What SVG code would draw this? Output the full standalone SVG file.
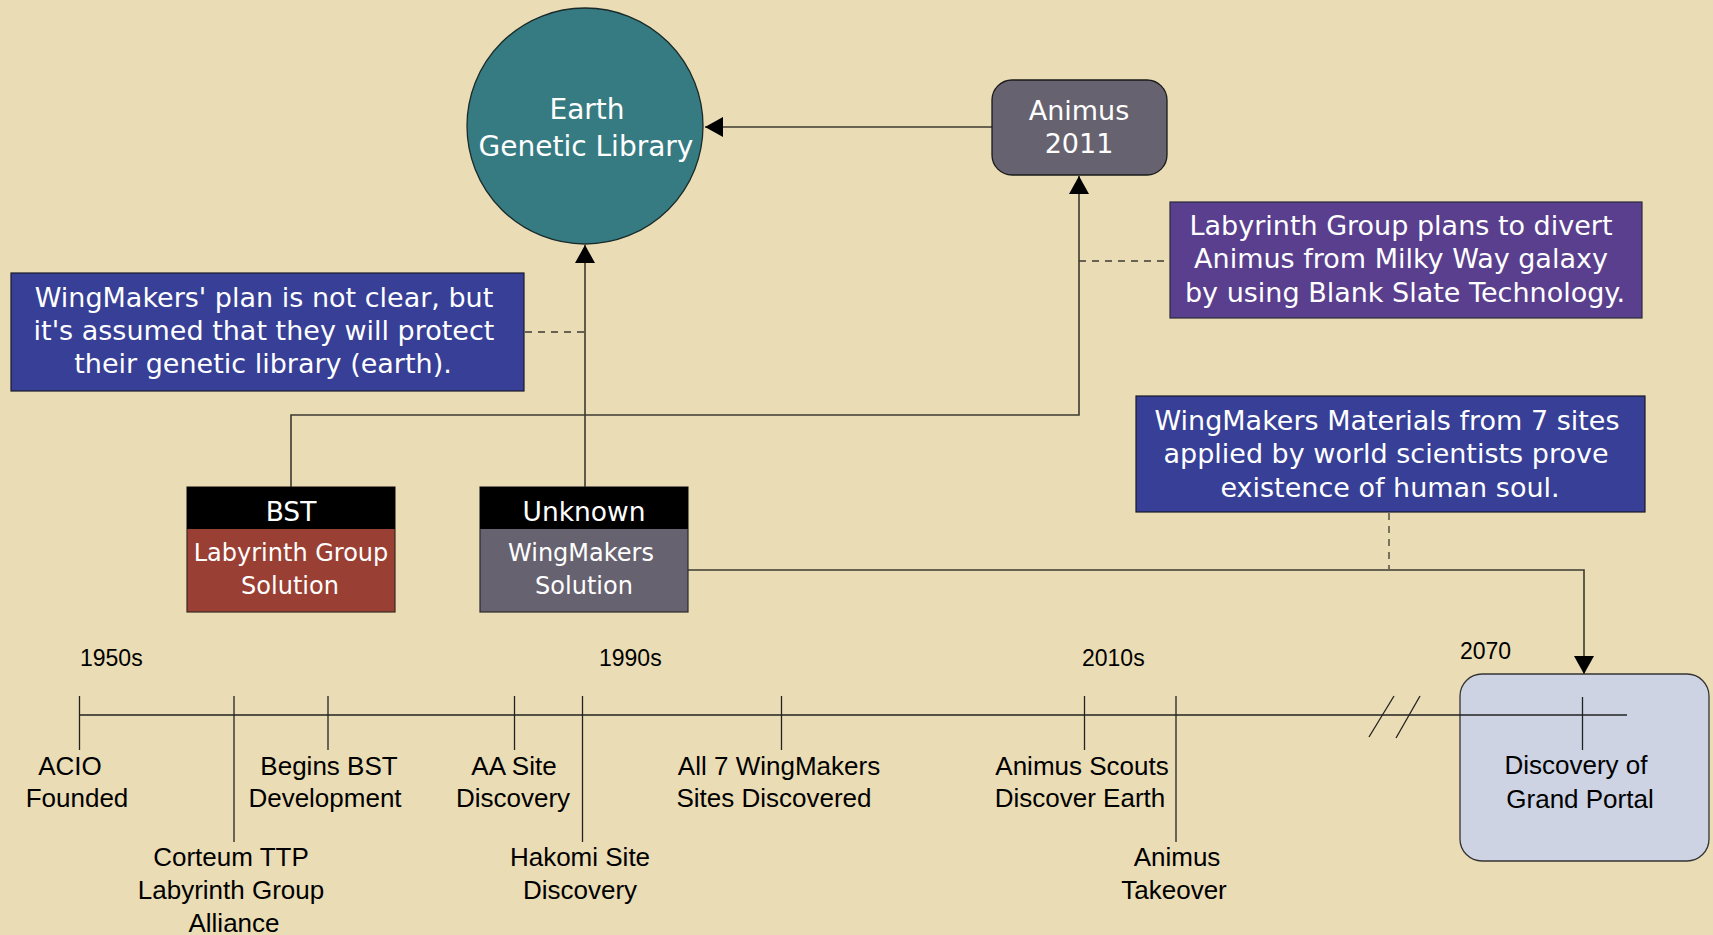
<svg xmlns="http://www.w3.org/2000/svg" width="1713" height="935" viewBox="0 0 1713 935">
<defs>
<style>
.bg{fill:#eadcb4}
.wt{fill:#ffffff;font-family:"DejaVu Sans","Liberation Sans",sans-serif;text-anchor:middle}
.lb{fill:#000000;font-family:"Liberation Sans",Arial,sans-serif;font-size:26px;text-anchor:middle}
.yr{fill:#000000;font-family:"Liberation Sans",Arial,sans-serif;font-size:23px}
.conn{fill:none;stroke:#3c3a30;stroke-width:1.6}
.dash{fill:none;stroke:#3c3a30;stroke-width:1.3;stroke-dasharray:7,6}
.tick{stroke:#222222;stroke-width:1.3}
.note{stroke:#222244;stroke-width:1.2}
</style>
<marker id="arr" viewBox="0 0 10 10" refX="10" refY="5" markerWidth="18" markerHeight="20" markerUnits="userSpaceOnUse" orient="auto" preserveAspectRatio="none">
<path d="M0,0 L10,5 L0,10 z" fill="#000000"/>
</marker>
</defs>
<rect class="bg" x="0" y="0" width="1713" height="935"/>

<g id="connectors">
<path class="conn" d="M992,127 L705,127" marker-end="url(#arr)"/>
<path class="conn" d="M585,487 L585,245" marker-end="url(#arr)"/>
<path class="conn" d="M291,487 L291,415 L1079,415 L1079,176" marker-end="url(#arr)"/>
<path class="conn" d="M688,570 L1584,570 L1584,674" marker-end="url(#arr)"/>
<path class="dash" d="M525,332 L585,332"/>
<path class="dash" d="M1079,261 L1170,261"/>
<path class="dash" d="M1389,513 L1389,569"/>
</g>

<g id="earth">
<circle cx="585" cy="126" r="118" fill="#377b82" stroke="#1a2a2a" stroke-width="1.3"/>
<text class="wt" font-size="28" x="587" y="119">Earth</text>
<text class="wt" font-size="28" x="586" y="156">Genetic Library</text>
</g>

<g id="animus">
<rect x="992" y="80" width="175" height="95" rx="20" ry="20" fill="#67626f" stroke="#1a1a1a" stroke-width="1.3"/>
<text class="wt" font-size="27" x="1079" y="120">Animus</text>
<text class="wt" font-size="27" x="1079" y="153">2011</text>
</g>

<g id="note-labyrinth">
<rect x="1170" y="202" width="472" height="116" fill="#5a3f8e" stroke="#2a2a3a" stroke-width="1.2"/>
<text class="wt" font-size="27" x="1401" y="235">Labyrinth Group plans to divert</text>
<text class="wt" font-size="27" x="1401" y="268">Animus from Milky Way galaxy</text>
<text class="wt" font-size="27" x="1405" y="302">by using Blank Slate Technology.</text>
</g>

<g id="note-wingmakers">
<rect x="11" y="273" width="513" height="118" fill="#373f97" stroke="#1a1a2a" stroke-width="1.2"/>
<text class="wt" font-size="27" x="264" y="307">WingMakers' plan is not clear, but</text>
<text class="wt" font-size="27" x="264" y="340">it's assumed that they will protect</text>
<text class="wt" font-size="27" x="263" y="373">their genetic library (earth).</text>
</g>

<g id="note-materials">
<rect x="1136" y="396" width="509" height="116" fill="#373f97" stroke="#1a1a2a" stroke-width="1.2"/>
<text class="wt" font-size="27" x="1387" y="430">WingMakers Materials from 7 sites</text>
<text class="wt" font-size="27" x="1386" y="463">applied by world scientists prove</text>
<text class="wt" font-size="27" x="1390" y="497">existence of human soul.</text>
</g>

<g id="bst">
<rect x="187" y="487" width="208" height="125" fill="#9a3f33" stroke="#3a2a20" stroke-width="1.2"/>
<rect x="187" y="487" width="208" height="42" fill="#000000"/>
<text class="wt" font-size="26.5" x="291" y="521">BST</text>
<text class="wt" font-size="24" x="291" y="561">Labyrinth Group</text>
<text class="wt" font-size="24" x="290" y="594">Solution</text>
</g>

<g id="unknown">
<rect x="480" y="487" width="208" height="125" fill="#67626f" stroke="#2a2a2a" stroke-width="1.2"/>
<rect x="480" y="487" width="208" height="42" fill="#000000"/>
<text class="wt" font-size="26.5" x="584" y="521">Unknown</text>
<text class="wt" font-size="24" x="581" y="561">WingMakers</text>
<text class="wt" font-size="24" x="584" y="594">Solution</text>
</g>

<g id="grand-portal">
<rect x="1460" y="674" width="249" height="187" rx="22" ry="22" fill="#cdd3e2" stroke="#333333" stroke-width="1.3"/>
</g>

<g id="timeline">
<line class="tick" x1="79" y1="715" x2="1627" y2="715" stroke="#3a3a3a"/>
<line class="tick" x1="1394" y1="696" x2="1369" y2="737"/>
<line class="tick" x1="1420" y1="696" x2="1396" y2="738"/>
<line class="tick" x1="79.5" y1="696" x2="79.5" y2="750"/>
<line class="tick" x1="234" y1="696" x2="234" y2="842"/>
<line class="tick" x1="328" y1="696" x2="328" y2="750"/>
<line class="tick" x1="514.5" y1="696" x2="514.5" y2="750"/>
<line class="tick" x1="582.5" y1="696" x2="582.5" y2="842"/>
<line class="tick" x1="781.5" y1="696" x2="781.5" y2="750"/>
<line class="tick" x1="1084.5" y1="696" x2="1084.5" y2="750"/>
<line class="tick" x1="1176" y1="696" x2="1176" y2="842"/>
<line class="tick" x1="1582.5" y1="697" x2="1582.5" y2="750"/>
<text class="yr" x="80" y="666">1950s</text>
<text class="yr" x="599" y="666">1990s</text>
<text class="yr" x="1082" y="666">2010s</text>
<text class="yr" x="1460" y="659">2070</text>
</g>

<g id="ev-acio">
<text class="lb" x="70" y="775">ACIO</text>
<text class="lb" x="77" y="807">Founded</text>
</g>
<g id="ev-corteum">
<text class="lb" x="231" y="866">Corteum TTP</text>
<text class="lb" x="231" y="899">Labyrinth Group</text>
<text class="lb" x="234" y="932">Alliance</text>
</g>
<g id="ev-bst">
<text class="lb" x="329" y="775">Begins BST</text>
<text class="lb" x="325" y="807">Development</text>
</g>
<g id="ev-aa">
<text class="lb" x="514" y="775">AA Site</text>
<text class="lb" x="513" y="807">Discovery</text>
</g>
<g id="ev-hakomi">
<text class="lb" x="580" y="866">Hakomi Site</text>
<text class="lb" x="580" y="899">Discovery</text>
</g>
<g id="ev-all7">
<text class="lb" x="779" y="775">All 7 WingMakers</text>
<text class="lb" x="774" y="807">Sites Discovered</text>
</g>
<g id="ev-scouts">
<text class="lb" x="1082" y="775">Animus Scouts</text>
<text class="lb" x="1080" y="807">Discover Earth</text>
</g>
<g id="ev-takeover">
<text class="lb" x="1177" y="866">Animus</text>
<text class="lb" x="1174" y="899">Takeover</text>
</g>
<g id="ev-portal">
<text class="lb" x="1576" y="774">Discovery of</text>
<text class="lb" x="1580" y="808">Grand Portal</text>
</g>
</svg>
